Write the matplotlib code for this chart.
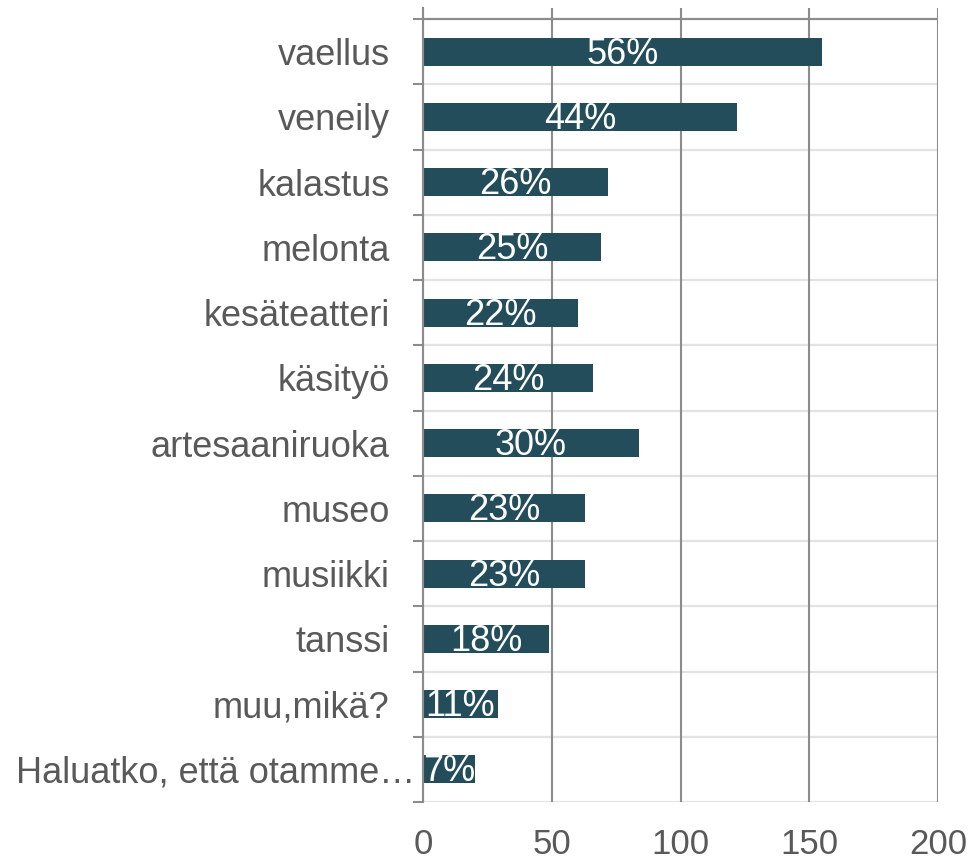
import matplotlib
matplotlib.use('Agg')
import matplotlib.pyplot as plt
import matplotlib.transforms as mtransforms
import numpy as np

# data
categories = ['vaellus', 'veneily', 'kalastus', 'melonta', 'kesäteatteri', 'käsityö',
              'artesaaniruoka', 'museo', 'musiikki', 'tanssi', 'muu,mikä?',
              'Haluatko, että otamme…']
counts = [155, 122, 72, 69, 60, 66, 84, 63, 63, 49, 29, 20]
pct_labels = ['56%', '44%', '26%', '25%', '22%', '24%', '30%', '23%', '23%', '18%', '11%', '7%']
x_ticks = [0, 50, 100, 150, 200]

BAR_COLOR = '#234D5A'
TEXT_COLOR = '#595959'
GRID_DARK = '#8C8C8C'
GRID_LIGHT = '#E3E3E3'

plt.rcParams['font.family'] = ['Liberation Sans', 'DejaVu Sans']

fig = plt.figure(figsize=(9.8, 8.61), dpi=100)
ax = fig.add_axes([423 / 980, 1 - 802 / 861, (938 - 423) / 980, (802 - 8) / 861])

y = np.arange(len(categories))
bars = ax.barh(y, counts, height=0.43, color=BAR_COLOR, zorder=3)

for bar, lab in zip(bars, pct_labels):
    cx = bar.get_x() + bar.get_width() / 2
    cy = bar.get_y() + bar.get_height() / 2
    t = ax.text(cx, cy + 0.04, lab, ha='center', va='center', color='white',
                fontsize=26, zorder=4)
    t.set_clip_path(bar)

# boundaries between categories
bounds = np.arange(-0.5, len(categories), 1.0)
for i, b in enumerate(bounds):
    ax.axhline(b, color=GRID_DARK if i == 0 else GRID_LIGHT, lw=1.6, zorder=1)

for xv in x_ticks:
    ax.axvline(xv, color=GRID_DARK, lw=1.5, zorder=2)

ax.set_xlim(0, 200)
ax.set_ylim(len(categories) - 0.5, -0.5 - 11 / 65.25)

ax.set_xticks(x_ticks)
ax.set_xticklabels([str(v) for v in x_ticks])
ax.tick_params(axis='x', length=0, pad=19, labelsize=25, labelcolor=TEXT_COLOR)

ax.set_yticks(y)
ax.set_yticklabels(categories)
ax.tick_params(axis='y', which='major', length=0, pad=24, labelsize=26, labelcolor=TEXT_COLOR)
ax.set_yticks(bounds, minor=True)
ax.tick_params(axis='y', which='minor', length=7, width=1.5, color=GRID_DARK)

# the truncated last label sits closer to the axis
last = ax.get_yticklabels()[-1]
last.set_transform(last.get_transform() +
                   mtransforms.ScaledTranslation(0.26, 0, fig.dpi_scale_trans))

for s in ['top', 'right', 'bottom']:
    ax.spines[s].set_visible(False)
ax.spines['left'].set_color(GRID_DARK)
ax.spines['left'].set_linewidth(1.5)
ax.spines['left'].set_zorder(5)

fig.savefig('out.png', dpi=100)
